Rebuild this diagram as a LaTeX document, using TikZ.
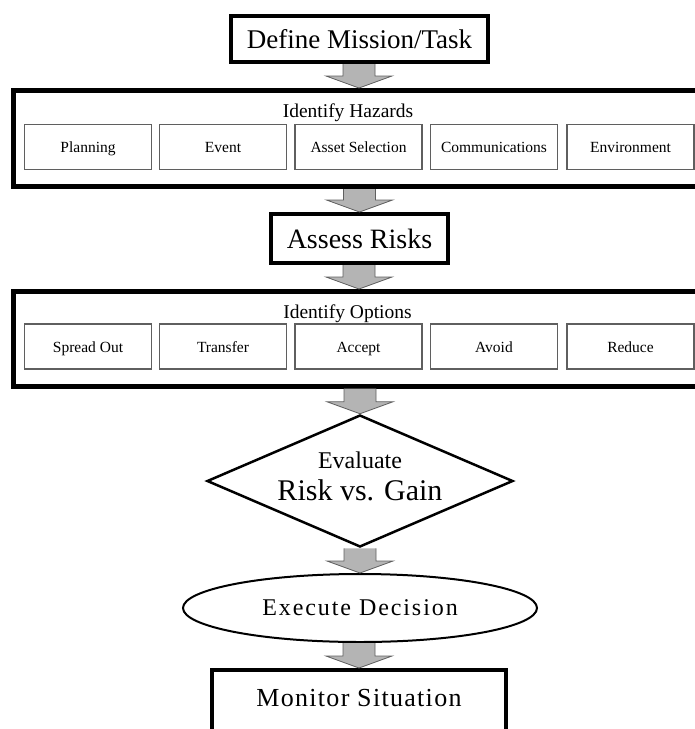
\documentclass[tikz,border=0pt]{standalone}
\usepackage{fontspec}
\setmainfont{Liberation Serif}
\definecolor{arrowgray}{RGB}{180, 180, 180}
\definecolor{edgegray}{RGB}{95, 95, 95}
\usetikzlibrary{shapes.geometric, calc, positioning}
\tikzset{
  stepbox/.style={draw, line width=4pt, minimum height=46pt, inner sep=0pt},
  groupframe/.style={draw, line width=5pt, minimum width=691pt, inner sep=0pt},
  grouptitle/.style={inner sep=0pt, font=\fontsize{19.5}{22}\selectfont},
  subbox/.style={draw=edgegray, line width=1.2pt, minimum width=127pt, minimum height=45pt, inner sep=0pt,
                 text height=11pt, text depth=0pt, font=\fontsize{15.5}{18}\selectfont},
  blockarrow/.style={fill=arrowgray, draw=edgegray, line width=0.8pt, line join=miter}
}
% gray block arrow from the bottom of #1 to the top of #2
\newcommand{\flowarrow}[2]{%
  \draw[blockarrow] ($(#1.south -| #2.north)+(-16,0)$) -- ($(#2.north)+(-16,-12)$) -- ($(#2.north)+(-33,-12)$)
    -- (#2.north) -- ($(#2.north)+(33,-12)$) -- ($(#2.north)+(16,-12)$) -- ($(#1.south -| #2.north)+(16,0)$);}

\begin{document}
\begin{tikzpicture}[x=1pt, y=-1pt]
  \clip (0, 0) rectangle (695, 729);

  % Mission
  \node[stepbox, minimum width=257pt, font=\fontsize{27}{32}\selectfont] (define) at (359.5, 39) {Define Mission/Task};

  % Hazards
  \node[groupframe, minimum height=96pt] (hazards) at (359, 138.5) {};
  \node[grouptitle] (hazardstitle) at (348, 113) {Identify Hazards};
  \node[subbox] (planning) at (88, 147) {Planning};
  \node[subbox] (event) at (223, 147) {Event};
  \node[subbox] (asset) at (358.5, 147) {Asset Selection};
  \node[subbox] (comms) at (494, 147) {Communications};
  \node[subbox] (environment) at (630.5, 147) {Environment};

  % Risks
  \node[stepbox, minimum width=177pt, minimum height=49pt, font=\fontsize{28}{32}\selectfont] (assess) at (359.5, 238.5) {Assess Risks};

  % Options
  \node[groupframe, minimum height=94.5pt] (options) at (359, 338.75) {};
  \node[grouptitle] (optionstitle) at (347.5, 314) {Identify Options};
  \node[subbox] (spread) at (88, 346.5) {Spread Out};
  \node[subbox] (transfer) at (223, 346.5) {Transfer};
  \node[subbox] (accept) at (358.5, 346.5) {Accept};
  \node[subbox] (avoid) at (494, 346.5) {Avoid};
  \node[subbox] (reduce) at (630.5, 346.5) {Reduce};

  % Decision
  \node[diamond, draw, line width=2.5pt, aspect=2.3, minimum width=306pt, minimum height=132pt, inner sep=0pt,
        align=center, font=\fontsize{30}{32}\selectfont] (evaluate) at (360, 481)
        {{\fontsize{24}{28}\selectfont Evaluate}\\Risk vs. Gain\rule[-10pt]{0pt}{10pt}};
  \node[ellipse, draw, line width=2pt, minimum width=354pt, minimum height=68pt, inner sep=0pt,
        font=\fontsize{24}{28}\selectfont\addfontfeature{LetterSpace=8}] (execute) at (360, 608) {Execute Decision};
  \node[stepbox, minimum width=294pt, text height=36pt, text depth=40pt, anchor=north,
        font=\fontsize{26}{30}\selectfont\addfontfeature{LetterSpace=5}] (monitor) at (359, 668) {Monitor Situation};

  % Arrows
  \flowarrow{define}{hazards}
  \flowarrow{hazards}{assess}
  \flowarrow{assess}{options}
  \flowarrow{options}{evaluate}
  \flowarrow{evaluate}{execute}
  \flowarrow{execute}{monitor}
\end{tikzpicture}
\end{document}
